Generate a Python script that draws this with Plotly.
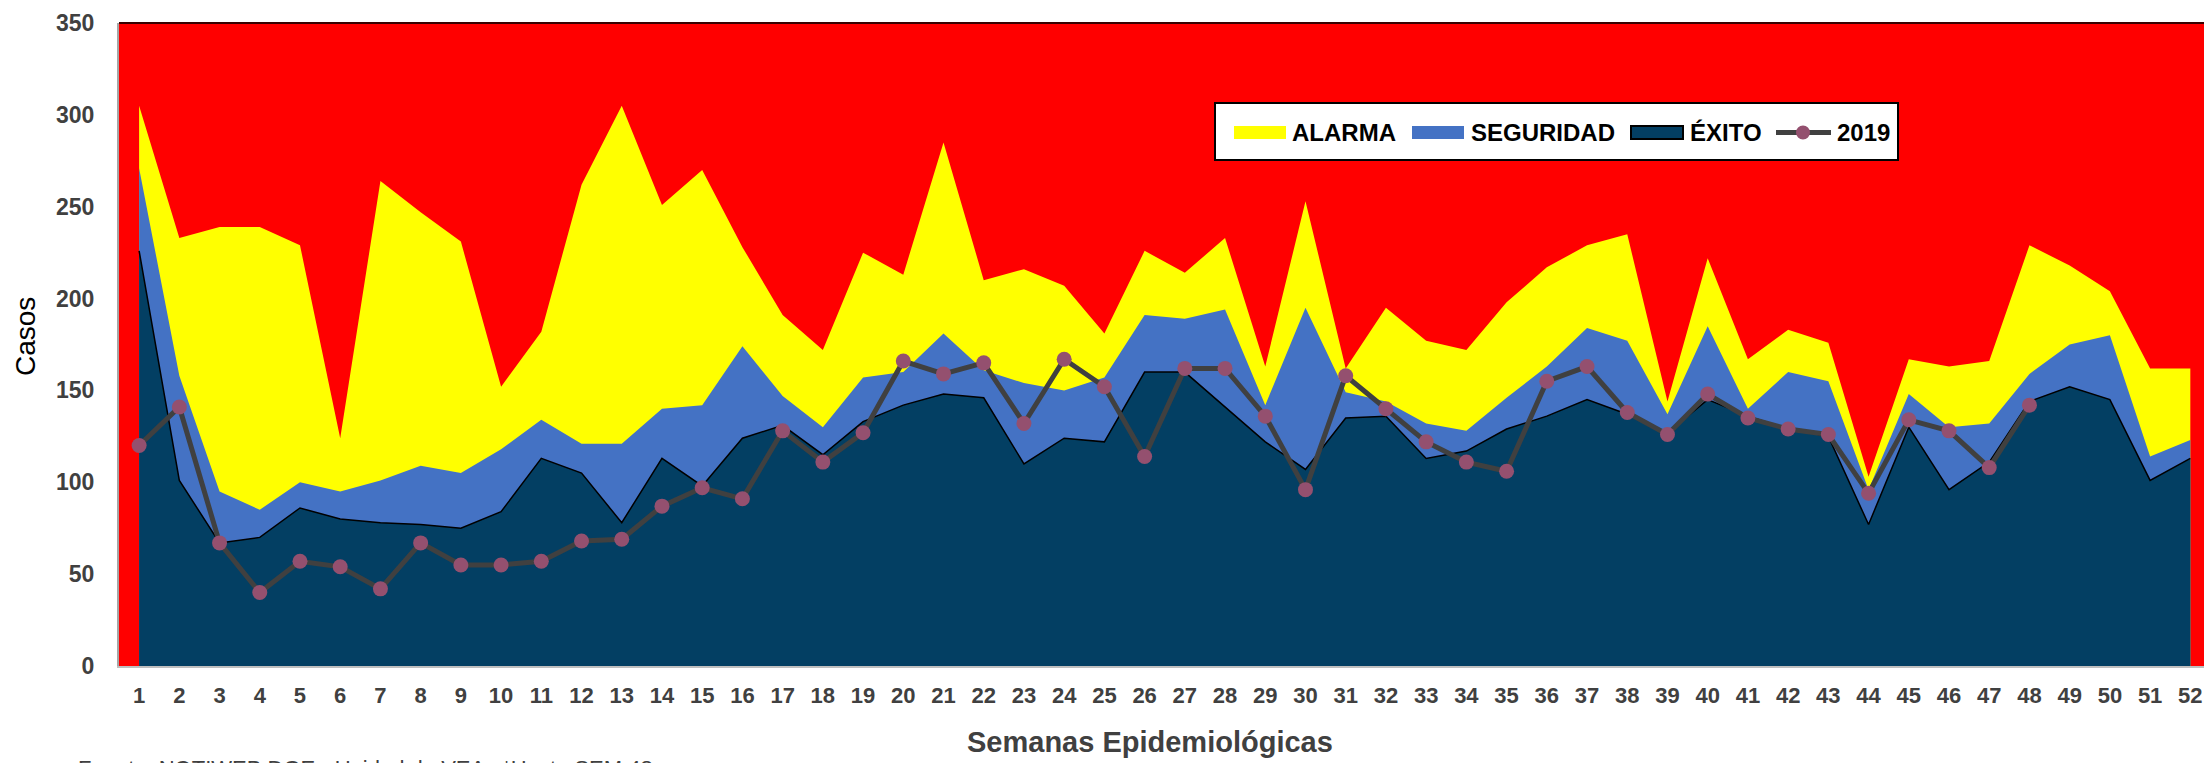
import plotly.graph_objects as go

weeks = list(range(1, 53))

alarma = [305, 233, 239, 239, 229, 124, 264, 247, 231, 152,
          182, 262, 305, 251, 270, 228, 191, 172, 225, 213,
          285, 210, 216, 207, 181, 226, 214, 233, 163, 253,
          162, 195, 177, 172, 198, 217, 229, 235, 144, 222,
          167, 183, 176, 103, 167, 163, 166, 229, 218, 204,
          162, 162]

seguridad = [271, 158, 95, 85, 100, 95, 101, 109, 105, 118,
             134, 121, 121, 140, 142, 174, 147, 130, 157, 160,
             181, 161, 154, 150, 157, 191, 189, 194, 142, 195,
             149, 144, 132, 128, 146, 163, 184, 177, 137, 185,
             140, 160, 155, 96, 148, 130, 132, 159, 175, 180,
             114, 123]

exito = [226, 101, 67, 70, 86, 80, 78, 77, 75, 84,
         113, 105, 78, 113, 98, 124, 131, 115, 133, 142,
         148, 146, 110, 124, 122, 160, 160, 141, 122, 107,
         135, 136, 113, 117, 129, 136, 145, 137, 127, 145,
         136, 129, 125, 77, 130, 96, 111, 144, 152, 145,
         101, 113]

y2019 = [120, 141, 67, 40, 57, 54, 42, 67, 55, 55,
         57, 68, 69, 87, 97, 91, 128, 111, 127, 166,
         159, 165, 132, 167, 152, 114, 162, 162, 136, 96,
         158, 140, 122, 111, 106, 155, 163, 138, 126, 148,
         135, 129, 126, 94, 134, 128, 108, 142]

y_ticks = [0, 50, 100, 150, 200, 250, 300, 350]

C_ALARMA = "#FFFF00"
C_SEG = "#4472C4"
C_EXITO = "#033F63"
C_LINE = "#404040"
C_MARK = "#94506F"

W, H = 2204, 763
L, R, T, B = 119, 0, 23, 97
PW, PH = W - L - R, H - T - B


def px(x):
    return (x - L) / PW


def py(y):
    return (H - B - y) / PH


fig = go.Figure()
fig.add_trace(go.Scatter(x=weeks, y=alarma, name="ALARMA", mode="lines",
                         fill="tozeroy", fillcolor=C_ALARMA,
                         line=dict(color=C_ALARMA, width=0), showlegend=False))
fig.add_trace(go.Scatter(x=weeks, y=seguridad, name="SEGURIDAD", mode="lines",
                         fill="tozeroy", fillcolor=C_SEG,
                         line=dict(color=C_SEG, width=0), showlegend=False))
fig.add_trace(go.Scatter(x=weeks, y=exito, name="ÉXITO", mode="lines",
                         fill="tozeroy", fillcolor=C_EXITO,
                         line=dict(color="#000000", width=1.5), showlegend=False))
fig.add_trace(go.Scatter(x=weeks[:len(y2019)], y=y2019, name="2019",
                         mode="lines+markers",
                         line=dict(color=C_LINE, width=5),
                         marker=dict(color=C_MARK, size=15, line=dict(width=0)),
                         showlegend=False))

# manual legend (layout decoration)
shapes = [
    dict(type="line", xref="paper", yref="paper", x0=0, x1=1, y0=1, y1=1,
         line=dict(color="#3A0000", width=2)),
    dict(type="rect", xref="paper", yref="paper", x0=px(1215), x1=px(1898),
         y0=py(160), y1=py(103), fillcolor="white", line=dict(color="#000000", width=2)),
    dict(type="rect", xref="paper", yref="paper", x0=px(1234), x1=px(1286),
         y0=py(139), y1=py(126), fillcolor=C_ALARMA, line=dict(width=0)),
    dict(type="rect", xref="paper", yref="paper", x0=px(1412), x1=px(1464),
         y0=py(139), y1=py(126), fillcolor=C_SEG, line=dict(width=0)),
    dict(type="rect", xref="paper", yref="paper", x0=px(1631), x1=px(1683),
         y0=py(139), y1=py(126), fillcolor=C_EXITO, line=dict(color="#000000", width=2)),
    dict(type="line", xref="paper", yref="paper", x0=px(1776), x1=px(1831),
         y0=py(132.5), y1=py(132.5), line=dict(color=C_LINE, width=5)),
    dict(type="circle", xref="paper", yref="paper", x0=px(1796), x1=px(1810),
         y0=py(139.5), y1=py(125.5), fillcolor=C_MARK, line=dict(width=0)),
]

leg_font = dict(size=24, color="#000000", family="Liberation Sans, Arial, sans-serif")
legend_ann = []
for label, x0 in [("ALARMA", 1290), ("SEGURIDAD", 1469), ("ÉXITO", 1688), ("2019", 1835)]:
    legend_ann.append(dict(text="<b>%s</b>" % label, xref="paper", yref="paper",
                           x=px(x0), y=py(132.5), xanchor="left", yanchor="middle",
                           showarrow=False, font=leg_font))

fig.update_layout(
    width=W, height=H,
    margin=dict(l=L, r=R, t=T, b=B, pad=0),
    paper_bgcolor="white",
    plot_bgcolor="#FF0000",
    font=dict(family="Liberation Sans, Arial, sans-serif", color="#404040"),
    showlegend=False,
    xaxis=dict(
        range=[0.5, 52.34],
        tickmode="array", tickvals=weeks, ticktext=[str(w) for w in weeks],
        tickfont=dict(size=22, color="#404040", weight="bold"),
        showgrid=False, zeroline=False,
        showline=True, linecolor="#BFBFBF", linewidth=2,
        ticks="", ticklabelstandoff=9,
    ),
    yaxis=dict(
        range=[0, 350],
        tickmode="array", tickvals=y_ticks,
        tickfont=dict(size=23, color="#404040", weight="bold"),
        showgrid=False, zeroline=False,
        showline=True, linecolor="#A6A6A6", linewidth=2,
        ticks="", ticklabelstandoff=18,
    ),
    shapes=shapes,
    annotations=[
        dict(text="Casos", xref="paper", yref="paper", x=px(25), y=py(337),
             xanchor="center", yanchor="middle", textangle=-90, showarrow=False,
             font=dict(size=28, color="#000000")),
        dict(text="<b>Semanas Epidemiológicas</b>", xref="paper", yref="paper",
             x=px(1150), y=py(742), xanchor="center", yanchor="middle", showarrow=False,
             font=dict(size=29, color="#404040")),
        dict(text="Fuente: NOTIWEB DGE - Unidad de VEA   *Hasta SEM 48",
             xref="paper", yref="paper", x=px(76), y=py(754),
             xanchor="left", yanchor="top", showarrow=False,
             font=dict(size=22, color="#404040")),
    ] + legend_ann,
)

fig.write_html("out.html", config={"displayModeBar": False},
               post_script="document.body.style.margin='0';document.body.style.overflow='hidden';")
